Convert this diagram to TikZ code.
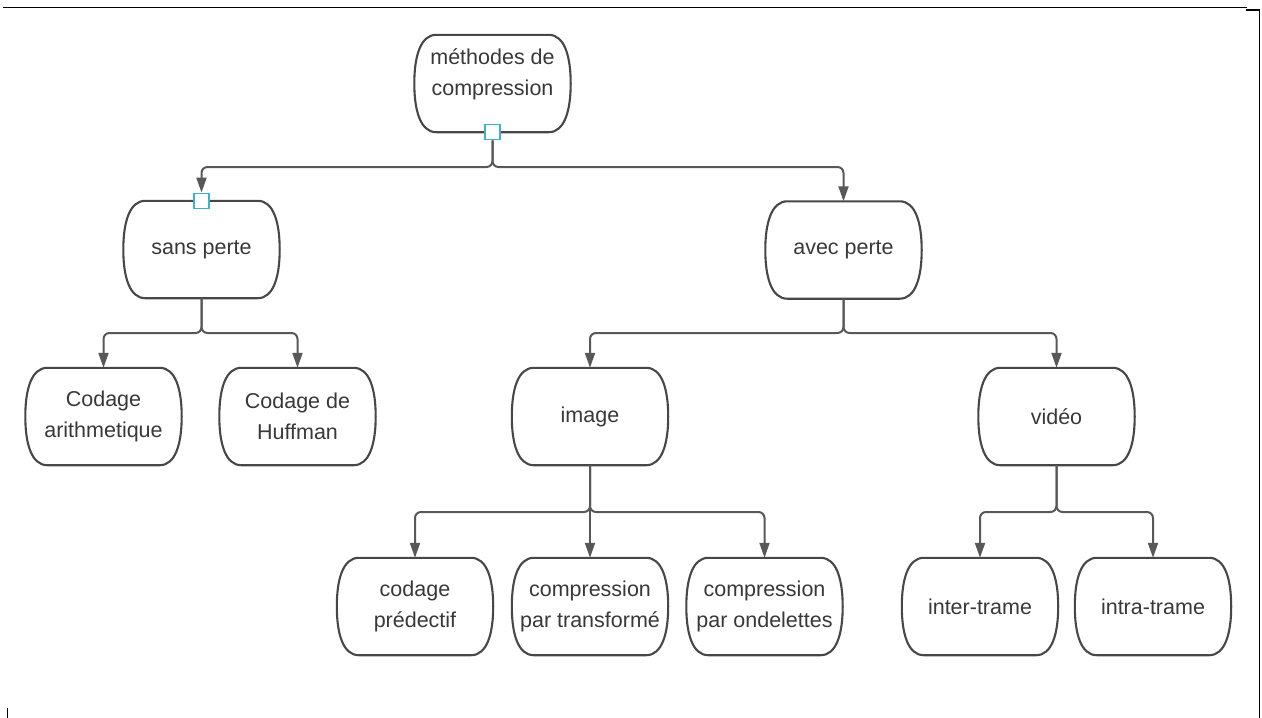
\documentclass[tikz,border=0pt]{standalone}
\usepackage{fontspec}
\setmainfont{Liberation Sans}
\usetikzlibrary{arrows.meta,calc}

\definecolor{edge}{HTML}{585858}
\definecolor{outline}{HTML}{474747}
\definecolor{ink}{HTML}{383838}
\definecolor{handlec}{HTML}{3BB3CF}

\pgfdeclarelayer{front}
\pgfsetlayers{main,front}

\tikzset{
  x=1pt, y=1pt,
  frame/.style={draw=black, line width=1.6pt},
  boxarea/.style={minimum width=156pt, minimum height=97pt, inner sep=0pt},
  lbl/.style={text=ink, align=center, inner sep=0pt,
    font=\fontsize{21.5}{31}\selectfont},
  outl/.style={draw=outline, line width=2.1pt},
  conn/.style={draw=edge, line width=2pt, rounded corners=6pt,
    -{Triangle[length=15pt,width=10pt]}},
  handle/.style={draw=handlec, fill=white, line width=1.4pt,
    minimum size=15pt, inner sep=0pt},
}

% rounded "pill" box: #1 name, #2 x, #3 y, #4 vertical text offset, #5 text
\newcommand{\pill}[5]{%
  \node[boxarea] (#1) at (#2,#3) {};
  \node[lbl] (#1t) at ($(#1.center)+(0,#4)$) {#5};
  \draw[outl] ($(#1.north west)+(22,0)$) -- ($(#1.north east)+(-22,0)$)
    .. controls ($(#1.north east)+(-6,0)$) and ($(#1.north east)+(0,-22)$) .. (#1.east)
    .. controls ($(#1.south east)+(0,22)$) and ($(#1.south east)+(-6,0)$) .. ($(#1.south east)+(-22,0)$)
    -- ($(#1.south west)+(22,0)$)
    .. controls ($(#1.south west)+(6,0)$) and ($(#1.south west)+(0,22)$) .. (#1.west)
    .. controls ($(#1.north west)+(0,-22)$) and ($(#1.north west)+(6,0)$) .. cycle;
}

\begin{document}
\begin{tikzpicture}
\useasboundingbox (0,0) rectangle (1262,-718);

% page frame fragments
\draw[frame] (3,-7.5) -- (1247,-7.5);
\draw[frame] (1246,-10) -- (1259.5,-10) -- (1259.5,-718);
\draw[draw=black, line width=1pt] (7,-708) -- (7,-718);

% boxes
\pill{root}{492.5}{-83.5}{9}{méthodes de\\compression}
\pill{sp}{201.5}{-249.5}{0}{sans perte}
\pill{ap}{843.5}{-250}{0}{avec perte}
\pill{ar}{103.5}{-416.5}{0}{Codage\\arithmetique}
\pill{hu}{297.5}{-416.5}{0}{Codage de\\Huffman}
\pill{im}{590}{-416.5}{0}{image}
\pill{vi}{1056.5}{-416.5}{0}{vidéo}
\pill{cp}{415}{-606.5}{0}{codage\\prédectif}
\pill{ct}{590}{-606.5}{0}{compression\\par transformé}
\pill{co}{764.5}{-606.5}{0}{compression\\par ondelettes}
\pill{it}{980}{-606.5}{0}{inter-trame}
\pill{ia}{1153}{-606.5}{0}{intra-trame}

% branching levels
\coordinate (bar1) at (0,-167);
\coordinate (bar2) at (0,-333);
\coordinate (bar3) at (0,-512);

% handles of the selected connector, kept above the lines
\begin{pgfonlayer}{front}
\node[handle] (h0) at (root.south) {};
\node[handle] (h1) at (sp.north) {};
\end{pgfonlayer}

% connectors
\draw[conn] (h0.south) -- (h0.south |- bar1) -| (h1.north);
\draw[conn] (h0.south) -- (h0.south |- bar1) -| (ap.north);

\draw[conn] (sp.south) -- (sp.south |- bar2) -| (ar.north);
\draw[conn] (sp.south) -- (sp.south |- bar2) -| (hu.north);

\draw[conn] (ap.south) -- (ap.south |- bar2) -| (im.north);
\draw[conn] (ap.south) -- (ap.south |- bar2) -| (vi.north);

\draw[conn] (im.south) -- (im.south |- bar3) -| (cp.north);
\draw[conn] (im.south) -- (ct.north);
\draw[conn] (im.south) -- (im.south |- bar3) -| (co.north);

\draw[conn] (vi.south) -- (vi.south |- bar3) -| (it.north);
\draw[conn] (vi.south) -- (vi.south |- bar3) -| (ia.north);
\end{tikzpicture}
\end{document}
